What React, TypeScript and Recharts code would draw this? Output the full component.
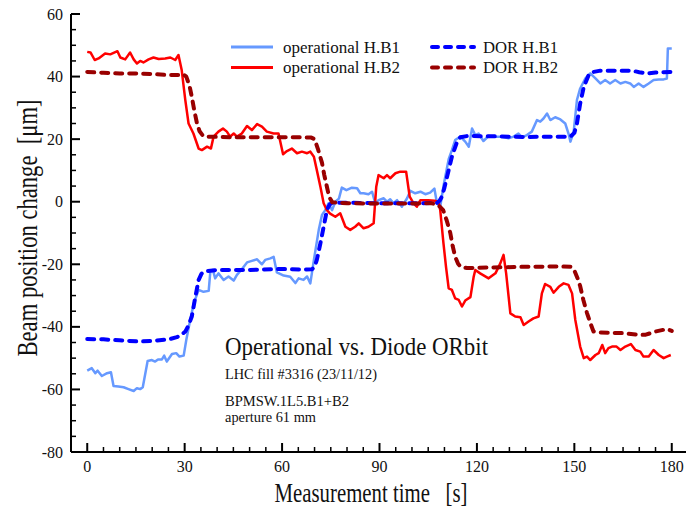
import React from 'react';
import { LineChart, Line, XAxis, YAxis, Legend } from 'recharts';

// [time s, position change um]
const opB1: [number, number][] = [
  [0, -54], [1.4, -53.2], [2.5, -54.8], [3.2, -54], [4.5, -55.7], [6.1, -54.8], [7.3, -54.5], [8.1, -58.9],
  [9.6, -59.1], [11.2, -59.3], [12.7, -59.9], [14.3, -60.5], [15.3, -59.6], [16.3, -59.9], [17.1, -59.3],
  [18.6, -50.9], [19.9, -50.6], [20.9, -51.1], [21.8, -50.4], [23, -50.4], [23.7, -49.2], [24.5, -51.1],
  [26.1, -48.7], [27.4, -48.4], [28.4, -49.5], [29.7, -49.2], [30.5, -44.2], [31.7, -37.8], [32.8, -32.5],
  [34.3, -28.2], [35.8, -28.8], [37.4, -28.5], [37.9, -22.4], [38.7, -21.8], [39.4, -24.5], [40.4, -22.9],
  [42, -25], [43.5, -23.9], [45.1, -25.2], [46.1, -23.4], [47.6, -21.6], [49.2, -19.4], [50.7, -18.9],
  [52.3, -18.4], [53.8, -20], [54.8, -18.6], [56.4, -18.1], [57.4, -17.6], [58.4, -22.6], [60.5, -23.6],
  [62.5, -24], [64.1, -26], [65.1, -24.5], [66.6, -25], [67.7, -23.9], [68.7, -26.1], [69.8, -18.6],
  [71.3, -9], [72.3, -4.2], [73.3, -2.7], [74.3, -0.5], [75.4, -2.7], [76.4, 0], [77.5, 1], [78.4, 4.5],
  [79.8, 3.7], [81.5, 4.5], [83.1, 4.3], [84.1, 2.7], [85.1, 2.7], [86.6, 2.4], [87.7, 3.2], [88.7, -0.5],
  [89.7, 0.5], [91.3, 1.1], [92.3, 0], [93.3, 0.8], [94.3, -0.5], [95.4, 0.5], [96.9, -1.6], [98.5, 1.1],
  [99.5, 3.5], [101, 2.7], [102.6, 3.2], [104.1, 2.4], [105.6, 2.9], [106.9, 4.2], [107.7, -0.5], [108.7, -1.6],
  [109.7, 5], [111.3, 13.6], [112.3, 16.5], [113.3, 19.7], [114.9, 20.8], [116.4, 19.2], [117.5, 17.6],
  [118.5, 23.4], [119.5, 21.3], [120.5, 21.8], [122, 19.4], [123.6, 21], [125.6, 20.8], [127.7, 20.8],
  [129.7, 20.3], [131.3, 20.8], [132.8, 21.8], [133.9, 20.6], [135.4, 21.3], [136.9, 22.4], [138.5, 26.1],
  [139.5, 25.6], [140.5, 26.6], [141.6, 28.2], [142.6, 26.1], [144.1, 27], [145.7, 26.3], [147.2, 25],
  [148.2, 21.8], [148.8, 19.2], [149.8, 22.4], [150.8, 32.5], [151.8, 36.2], [153.4, 39.4], [154.9, 41],
  [156.5, 39.4], [158, 37.8], [159.5, 38.9], [161, 37.8], [162.6, 38.9], [164.2, 37.8], [165.7, 38.3],
  [167.2, 37.8], [168.3, 36.7], [169.8, 37.8], [171.3, 36.7], [172.9, 37.8], [174.4, 38.9], [176, 39.1],
  [177.5, 39.1], [178.5, 39.4], [178.8, 49], [180, 49],
];

const opB2: [number, number][] = [
  [0, 47.9], [1, 47.7], [2.3, 45.3], [3.5, 45.8], [5.5, 47.4], [7.1, 47.1], [9.3, 48.1], [10.2, 46.1],
  [11.7, 45.5], [13.2, 47.7], [14.3, 45.5], [15.3, 44.2], [16.3, 45], [17.3, 44.5], [18.9, 45.5], [20.4, 46.1],
  [22, 45.6], [24, 45.8], [25.6, 46.1], [27.1, 45.3], [28.1, 46.9], [29.1, 42], [30.2, 32.5], [31.2, 25],
  [32.7, 21.8], [34.3, 17], [35.3, 16.5], [36.9, 17.6], [38.1, 17], [38.9, 20.8], [40.4, 22.4], [41.8, 23.4],
  [43, 22.4], [44, 20.8], [45.1, 21.8], [46.1, 20.8], [47.6, 21.8], [49.2, 24.2], [50.7, 22.9], [52.3, 24.8],
  [53.8, 24], [55.3, 22.4], [57.4, 21.8], [58.9, 21.8], [60.3, 15.2], [61.5, 16.2], [63, 17], [64.6, 15.5],
  [66.1, 16], [67.7, 15.5], [68.7, 16], [69.8, 14.4], [70.7, 10.1], [71.8, 4.8], [72.8, -0.5], [73.8, -2.7],
  [74.8, -3.8], [76.4, -4.8], [77.9, -3.7], [79.5, -8], [81, -9], [82.5, -8], [83.6, -6.9], [85.1, -8.5],
  [86.6, -8], [88.2, -6.9], [89, 4.8], [89.7, 8.5], [91.3, 7.5], [92.3, 8.5], [93.3, 7.5], [94.9, 9.1],
  [96.4, 9.6], [98.2, 9.6], [99.3, 1.6], [100.5, -0.5], [101.5, -1.6], [102.6, 0.5], [105, 0.5], [107, 0.3],
  [108.2, 0], [108.7, -2.7], [109.7, -13.3], [110.5, -21], [111.3, -27.7], [112.3, -28.2], [113.3, -30.9],
  [114.4, -31.4], [115.4, -33.5], [116.4, -31.6], [118, -30.5], [119, -24], [119.5, -21.8], [121, -22.9],
  [123.6, -24.5], [125.7, -22.9], [127.2, -19.7], [128.2, -17], [129, -22.9], [130.3, -35.7], [131.8, -36.7],
  [133.4, -36.9], [134.4, -39.4], [135.9, -38.3], [137.4, -37.3], [139, -36.7], [140, -29.3], [141, -26.3],
  [142.6, -27.2], [143.6, -29.1], [145.2, -27.2], [146.7, -26.1], [148.2, -26.6], [149.3, -29.3],
  [150.3, -37.8], [151.8, -46.3], [152.9, -50], [153.9, -49.5], [154.9, -50.6], [156.5, -49], [157.5, -48.4],
  [158.6, -45.8], [159.5, -48.4], [160.5, -46.8], [161.6, -46.3], [163, -46.3], [164.2, -47.4], [165.7, -46.3],
  [167.4, -45.5], [168.8, -47.4], [170.3, -47.9], [171.3, -49.5], [172.9, -49.5], [174.4, -47.4], [176, -49],
  [177.5, -50], [178.5, -49.5], [179.7, -49],
];

const dorB1: [number, number][] = [
  [0, -43.9], [5, -44], [10, -44.3], [16, -44.7], [20, -44.5], [25, -44], [27.6, -43.3], [29, -42.5],
  [30.2, -41.5], [31.2, -39.5], [32.2, -36.7], [33.3, -30.4], [34.3, -25], [35.2, -23], [36.5, -22.2],
  [40, -21.8], [50, -21.8], [60, -21.5], [66, -21.7], [69.2, -21.6], [70, -20.8], [70.7, -18.6],
  [71.8, -13.3], [72.8, -8], [73.8, -2.7], [74.6, -1], [75.4, -0.3], [80, -0.3], [90, -0.5], [100, -0.5],
  [107.7, -0.4], [108.5, 0.3], [109.2, 1.6], [110, 4.5], [110.8, 8], [112.3, 14.4], [113.9, 19.2],
  [114.9, 20.6], [117, 21], [125, 20.9], [135, 20.7], [145, 20.8], [148.8, 20.8], [150, 22], [150.8, 25],
  [151.8, 31.4], [152.9, 36.7], [154.4, 40.5], [156, 41.5], [158, 41.9], [165, 41.9], [168.2, 41.8],
  [170, 41.4], [172.4, 41], [175, 41.3], [180, 41.5],
];

const dorB2: [number, number][] = [
  [0, 41.5], [5, 41.2], [10, 41], [15, 41], [20, 40.8], [25, 40.5], [28, 40.5], [29.5, 40.8], [30.5, 40],
  [31.5, 37], [32.2, 33.5], [33, 29], [33.8, 25], [34.6, 22.5], [35.7, 21], [37, 20.8], [45, 20.6],
  [55, 20.6], [65, 20.6], [69, 20.5], [70, 20], [71, 17], [72.3, 12.4], [73, 8.5], [73.8, 4.8], [74.5, 1.5],
  [75.5, -0.2], [80, -0.5], [90, -0.6], [100, -0.6], [106, -0.5], [107.5, -0.8], [108.5, -1.5],
  [109.6, -2.7], [110.7, -6], [111.8, -10], [112.5, -14], [113.3, -17.6], [114.2, -19.8], [115, -20.8],
  [117, -21.2], [125, -21], [135, -20.8], [145, -20.7], [149, -20.8], [150, -22], [151, -24.5], [151.8, -27],
  [152.8, -31.5], [153.9, -35.6], [155, -39], [155.9, -41.5], [158, -41.8], [165, -42], [170, -42.6],
  [172, -42.5], [175, -41.5], [178.5, -40.7], [180, -41.3],
];

const xMajor = [0, 30, 60, 90, 120, 150, 180];
const yMajor = [-80, -60, -40, -20, 0, 20, 40, 60];
const xTicks = Array.from({ length: 37 }, (_, i) => i * 5);
const yTicks = Array.from({ length: 29 }, (_, i) => -80 + i * 5);

const FONT = '"Liberation Serif", "DejaVu Serif", serif';
const INK = '#111';

const rows = (pts: [number, number][]) => pts.map(([t, v]) => ({ t, v }));

const BottomTick = ({ x, y, payload }: any) => {
  const major = xMajor.includes(payload.value);
  return (
    <g>
      <line x1={x} x2={x} y1={y} y2={y - (major ? 9 : 5)} stroke="#000" strokeWidth={major ? 2 : 1.5} />
      {major && (
        <text x={x} y={y + 20} textAnchor="middle" fontSize={16} fontFamily={FONT} fill={INK}>
          {payload.value}
        </text>
      )}
    </g>
  );
};

const TopTick = ({ x, y, payload }: any) => {
  const major = xMajor.includes(payload.value);
  return <line x1={x} x2={x} y1={y} y2={y + (major ? 9 : 5)} stroke="#000" strokeWidth={major ? 2 : 1.5} />;
};

const LeftTick = ({ x, y, payload }: any) => {
  const major = yMajor.includes(payload.value);
  return (
    <g>
      <line x1={x} x2={x + (major ? 9 : 5)} y1={y} y2={y} stroke="#000" strokeWidth={major ? 2 : 1.5} />
      {major && (
        <text x={x - 8} y={y + 5.5} textAnchor="end" fontSize={16} fontFamily={FONT} fill={INK}>
          {payload.value}
        </text>
      )}
    </g>
  );
};

const RightTick = ({ x, y, payload }: any) => {
  const major = yMajor.includes(payload.value);
  return <line x1={x} x2={x - (major ? 9 : 5)} y1={y} y2={y} stroke="#000" strokeWidth={major ? 2 : 1.5} />;
};

const series = [
  { name: 'operational H.B1', color: '#6699ff', width: 2.5, dash: undefined },
  { name: 'operational H.B2', color: '#ff0000', width: 2.5, dash: undefined },
  { name: 'DOR H.B1', color: '#0000ff', width: 4, dash: '7 7' },
  { name: 'DOR H.B2', color: '#990000', width: 4, dash: '7 7' },
];

const LegendBox = () => {
  const slots = [
    { x: 231, y: 47, tx: 283, len: 117 },
    { x: 231, y: 67.5, tx: 283, len: 117 },
    { x: 432, y: 47, tx: 483, len: 75 },
    { x: 432, y: 67.5, tx: 483, len: 75 },
  ];
  return (
    <svg width={686} height={90} style={{ display: 'block' }}>
      {series.map((s, i) => {
        const p = slots[i];
        return (
          <g key={s.name}>
            <line
              x1={p.x}
              x2={p.x + 42}
              y1={p.y}
              y2={p.y}
              stroke={s.color}
              strokeWidth={s.dash ? 4 : 3}
              strokeDasharray={s.dash ? '6 7' : undefined}
              strokeLinecap={s.dash ? 'round' : 'butt'}
            />
            <text
              x={p.tx}
              y={p.y + 5.5}
              fontSize={16}
              fontFamily={FONT}
              fill={INK}
              textLength={p.len}
              lengthAdjust="spacingAndGlyphs"
            >
              {s.name}
            </text>
          </g>
        );
      })}
    </svg>
  );
};

const Notes = () => (
  <svg
    width={686}
    height={508}
    style={{ position: 'absolute', left: 0, top: 0, pointerEvents: 'none' }}
    fontFamily={FONT}
    fill={INK}
  >
    <text x={225} y={355} fontSize={25} textLength={263} lengthAdjust="spacingAndGlyphs">
      Operational vs. Diode ORbit
    </text>
    <text x={225} y={379} fontSize={15} textLength={152} lengthAdjust="spacingAndGlyphs">
      LHC fill #3316 (23/11/12)
    </text>
    <text x={225} y={406} fontSize={14} textLength={124} lengthAdjust="spacingAndGlyphs">
      BPMSW.1L5.B1+B2
    </text>
    <text x={225} y={422} fontSize={14} textLength={91} lengthAdjust="spacingAndGlyphs">
      aperture 61 mm
    </text>
    <text
      x={0}
      y={0}
      transform="translate(37,228) rotate(-90)"
      textAnchor="middle"
      fontSize={29}
      textLength={257}
      lengthAdjust="spacingAndGlyphs"
      style={{ whiteSpace: 'pre' }}
    >
      {'Beam position change  [\u03bcm]'}
    </text>
    <text
      x={371}
      y={502}
      textAnchor="middle"
      fontSize={27}
      textLength={193}
      lengthAdjust="spacingAndGlyphs"
      style={{ whiteSpace: 'pre' }}
    >
      {'Measurement time   [s]'}
    </text>
  </svg>
);

const data = [rows(opB1), rows(opB2), rows(dorB1), rows(dorB2)];

export default function App() {
  return (
    <div
      style={{
        position: 'absolute',
        left: 0,
        top: 0,
        width: 686,
        height: 508,
        overflow: 'hidden',
        background: '#fff',
      }}
    >
      <LineChart width={690} height={508} margin={{ top: 14, right: 2, bottom: 0, left: 0 }}>
        <XAxis
          dataKey="t"
          type="number"
          domain={[-5, 185]}
          ticks={xTicks}
          interval={0}
          height={56}
          tickSize={0}
          tickMargin={0}
          tickLine={false}
          tick={<BottomTick />}
          axisLine={{ stroke: '#000', strokeWidth: 2 }}
          allowDataOverflow
        />
        <XAxis
          xAxisId="top"
          orientation="top"
          dataKey="t"
          type="number"
          domain={[-5, 185]}
          ticks={xTicks}
          interval={0}
          height={0}
          tickSize={0}
          tickMargin={0}
          tickLine={false}
          tick={<TopTick />}
          axisLine={{ stroke: '#000', strokeWidth: 2 }}
          allowDataOverflow
        />
        <YAxis
          type="number"
          domain={[-80, 60]}
          ticks={yTicks}
          interval={0}
          width={71}
          tickSize={0}
          tickMargin={0}
          tickLine={false}
          tick={<LeftTick />}
          axisLine={{ stroke: '#000', strokeWidth: 2 }}
          allowDataOverflow
        />
        <YAxis
          yAxisId="right"
          orientation="right"
          type="number"
          domain={[-80, 60]}
          ticks={yTicks}
          interval={0}
          width={0}
          tickSize={0}
          tickMargin={0}
          tickLine={false}
          tick={<RightTick />}
          axisLine={{ stroke: '#000', strokeWidth: 2 }}
          allowDataOverflow
        />
        <Legend
          verticalAlign="middle"
          align="center"
          layout="horizontal"
          wrapperStyle={{ position: 'absolute', top: 0, left: 0, width: 686, height: 90, margin: 0 }}
          content={<LegendBox />}
        />
        {series.map((s, i) => (
          <Line
            key={s.name}
            name={s.name}
            data={data[i]}
            dataKey="v"
            type="linear"
            stroke={s.color}
            strokeWidth={s.width}
            strokeDasharray={s.dash}
            strokeLinecap={s.dash ? 'round' : 'butt'}
            strokeLinejoin="round"
            dot={false}
            activeDot={false}
            isAnimationActive={false}
          />
        ))}
      </LineChart>
      <Notes />
    </div>
  );
}
